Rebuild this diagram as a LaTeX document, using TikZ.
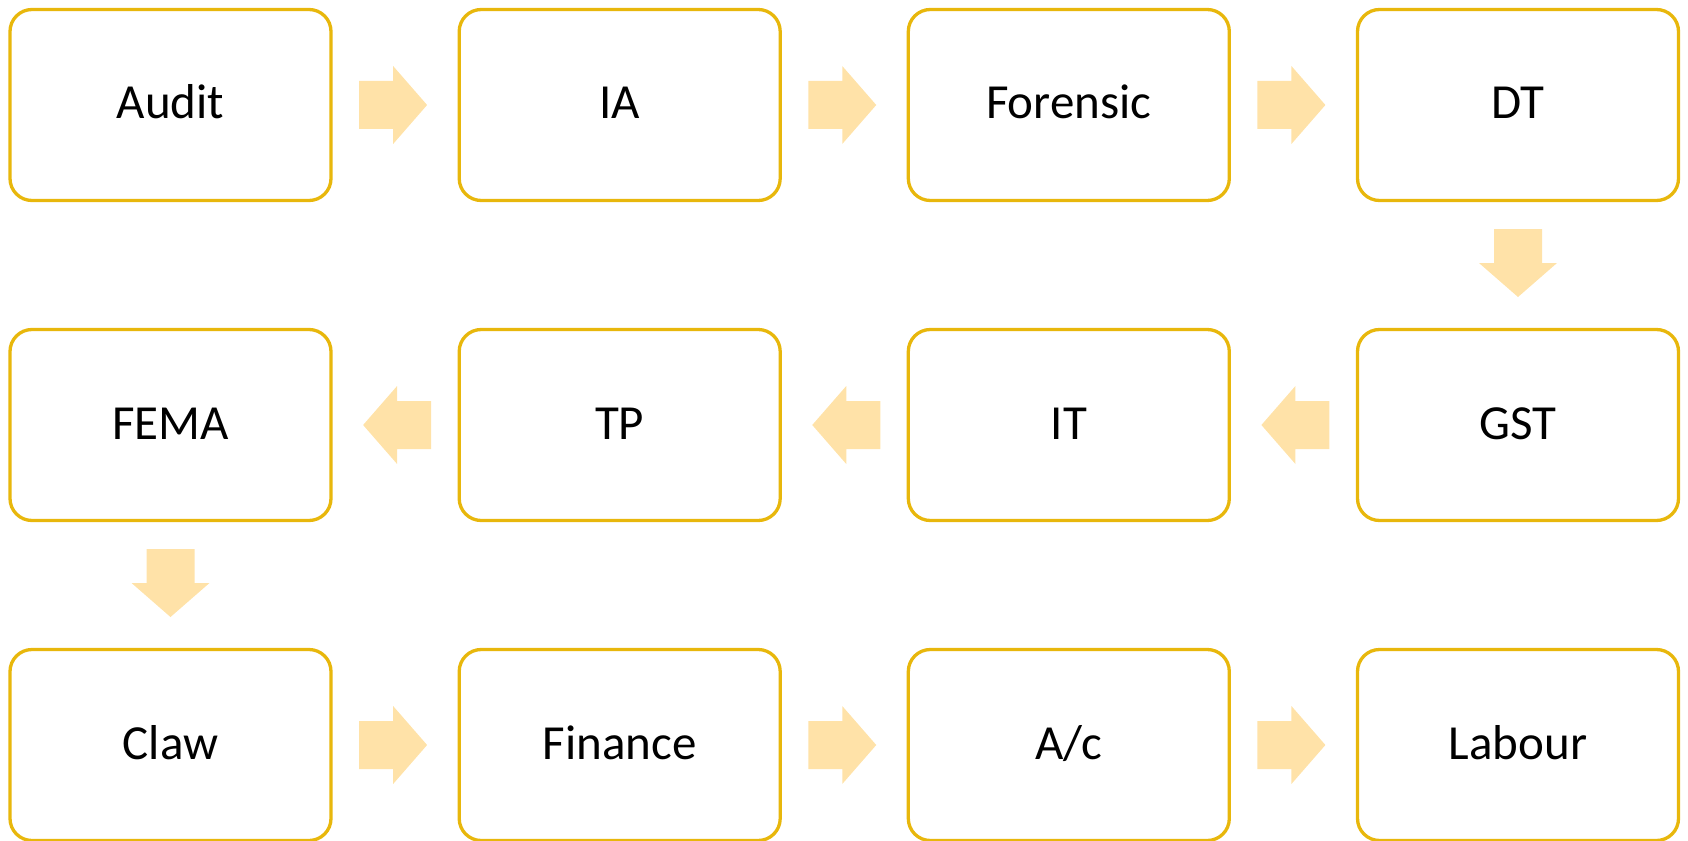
\documentclass[tikz,border=0pt]{standalone}
\usepackage{fontspec}
\setmainfont{Carlito}
\usetikzlibrary{calc}
\definecolor{boxline}{HTML}{E8B70C}
\definecolor{arrowfill}{HTML}{FFE2A8}
\tikzset{
  stepbox/.style={draw=boxline, line width=3.3pt, rounded corners=22pt,
    fill=white, minimum width=321pt, minimum height=191pt,
    inner sep=0pt, text height=36pt, text depth=8pt,
    font=\fontsize{49}{59}\selectfont, text=black},
  blockarrow/.style={fill=arrowfill, draw=none}
}
% block arrow pointing along +x, centred on the current origin
\newcommand\blockarrowpath{(-34,-24) -- (0,-24) -- (0,-39) -- (34,0) -- (0,39) -- (0,24) -- (-34,24) -- cycle}
\begin{document}
\begin{tikzpicture}[x=1pt,y=-1pt]
\useasboundingbox (0,0) rectangle (1688,840);
% row 1
\node[stepbox] (audit)    at (170.5,105)  {Audit};
\node[stepbox] (ia)       at (619.7,105)  {IA};
\node[stepbox] (forensic) at (1068.8,105) {Forensic};
\node[stepbox] (dt)       at (1518,105)   {DT};
% row 2
\node[stepbox] (fema)     at (170.5,425)  {FEMA};
\node[stepbox] (tp)       at (619.7,425)  {TP};
\node[stepbox] (it)       at (1068.8,425) {IT};
\node[stepbox] (gst)      at (1518,425)   {GST};
% row 3
\node[stepbox] (claw)     at (170.5,745)  {Claw};
\node[stepbox] (finance)  at (619.7,745)  {Finance};
\node[stepbox] (ac)       at (1068.8,745) {A/c};
\node[stepbox] (labour)   at (1518,745)   {Labour};
% connectors: from/to/rotation/offset
\foreach \a/\b/\r/\dx/\dy in {audit/ia/0/-2/0, ia/forensic/0/-2/0, forensic/dt/0/-2/0,
    dt/gst/-90/0/-2,
    gst/it/180/2/0, it/tp/180/2/0, tp/fema/180/2/0,
    fema/claw/-90/0/-2,
    claw/finance/0/-2/0, finance/ac/0/-2/0, ac/labour/0/-2/0}{
  \begin{scope}[shift={($(\a)!0.5!(\b)+(\dx,\dy)$)}, rotate=\r]
    \fill[blockarrow] \blockarrowpath;
  \end{scope}
}
\end{tikzpicture}
\end{document}
